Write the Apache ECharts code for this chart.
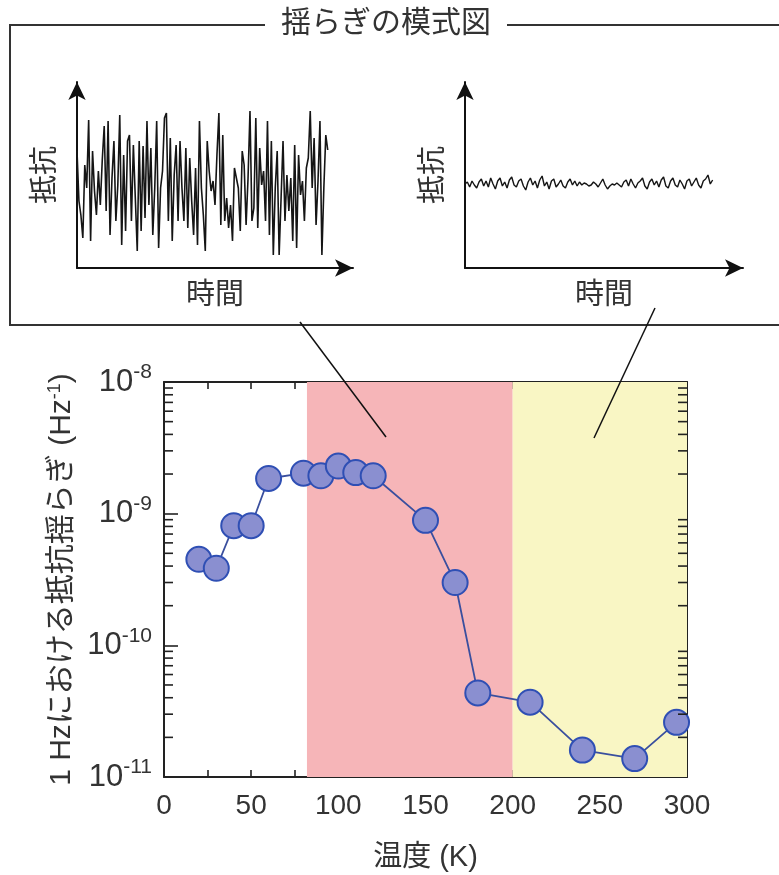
<!DOCTYPE html>
<html><head><meta charset="utf-8">
<script src="https://cdn.jsdelivr.net/npm/echarts@6/dist/echarts.min.js"></script>
<style>html,body{margin:0;padding:0;background:#fff}#c{width:779px;height:875px}</style>
</head><body><div id="c"></div>
<script>
// ---- main chart data ----
const temperatures = [20, 30, 40, 50, 60, 80, 90, 100, 110, 120, 150, 167, 180, 210, 240, 270, 294];
const noiseAt1Hz = [4.5e-10, 3.85e-10, 8.1e-10, 8.1e-10, 1.85e-9, 2.03e-9, 1.94e-9, 2.3e-9, 2.05e-9, 1.94e-9,
                    8.9e-10, 3.0e-10, 4.35e-11, 3.7e-11, 1.6e-11, 1.38e-11, 2.6e-11];
const xTickLabels = [0, 50, 100, 150, 200, 250, 300];
const yTickLabels = [1e-11, 1e-10, 1e-9, 1e-8];
const minorMantissas = [2, 3, 4, 5, 6, 7, 8, 9];
const regionPink = [82, 200];
const regionYellow = [200, 300];

// ---- schematic traces (arbitrary units) ----
const noiseLarge = [117,67,53,30,103,80,148,27,117,77,
  53,97,63,108,142,57,147,33,90,127,
  47,83,153,23,113,37,127,133,47,123,
  70,17,127,37,122,50,147,63,120,33,
  80,147,20,80,97,150,155,47,130,27,
  93,123,47,127,80,47,120,40,110,67,
  33,100,23,147,80,53,17,127,97,77,
  87,63,113,155,43,133,47,70,40,63,
  27,100,90,80,37,117,103,43,90,157,
  47,60,150,40,120,83,97,47,147,33,
  127,13,80,117,13,70,127,47,93,57,
  90,27,123,20,113,73,87,47,100,110,
  157,80,130,43,87,147,13,80,133,118];
const noiseSmall = [84,86,81,87,83,80,86,89,82,87,81,90,84,79,87,90,82,86,80,88,
  91,83,81,87,89,82,78,86,90,83,87,80,88,92,82,86,79,87,89,81,
  84,88,82,80,86,89,83,87,82,86,83,85,84,82,83,86,84,81,85,89,
  83,79,82,84,83,85,83,81,86,88,82,89,84,80,85,87,90,82,79,86,
  89,83,87,81,88,91,82,80,87,90,83,81,88,84,79,87,89,82,86,90,
  83,80,87,89,93,84,88];

const LATIN = '"Liberation Sans", Arial, "Noto Sans CJK JP", sans-serif';
const TXT = '#333';
const INK = '#222';

const minorTicks = [];
yTickLabels.slice(0, -1).forEach(d => minorMantissas.forEach(m => minorTicks.push(m * d)));

function supLabel(v) {
  const e = Math.round(Math.log10(v));
  return '{b|10}{s|' + e + '}';
}
const supRich = {
  b: {fontSize: 31, fontFamily: LATIN, color: TXT, lineHeight: 40},
  s: {fontSize: 21, fontFamily: LATIN, color: TXT, verticalAlign: 'top', lineHeight: 21}
};

const boxLine = {show: true, onZero: false, lineStyle: {color: INK, width: 2}};

function mainX(pos, showLabel) {
  return {
    type: 'value', gridIndex: 0, position: pos, min: 0, max: 300, interval: 25,
    axisLine: boxLine,
    axisTick: {show: true, inside: true, length: 7, lineStyle: {color: INK, width: 1.6}},
    splitLine: {show: false},
    axisLabel: {show: showLabel, margin: 15, fontSize: 28, fontFamily: LATIN, color: TXT,
      formatter: v => xTickLabels.includes(v) ? String(v) : ''},
    name: showLabel ? '温度 (K)' : '', nameLocation: 'middle', nameGap: 66,
    nameTextStyle: {fontSize: 29, fontFamily: LATIN, color: TXT}
  };
}
function mainY(pos, withLabel) {
  const o = {
    type: 'log', logBase: 10, gridIndex: 0, position: pos, min: 1e-11, max: 1e-8,
    axisLine: boxLine,
    splitLine: {show: false},
    axisTick: {show: true, inside: true, length: 14, lineStyle: {color: INK, width: 1.6}},
    axisLabel: {show: withLabel, margin: 12, formatter: supLabel, rich: supRich}
  };
  if (withLabel) {
    o.name = '1 Hzにおける抵抗揺らぎ (Hz{s|-1})';
    o.nameLocation = 'middle';
    o.nameGap = 78;
    o.nameRotate = 90;
    o.nameTextStyle = {fontSize: 30, fontFamily: LATIN, color: TXT,
      rich: {s: {fontSize: 18, fontFamily: LATIN, color: TXT, verticalAlign: 'top'}}};
  }
  return o;
}

function miniX(grid, max) {
  return {
    type: 'value', gridIndex: grid, min: 0, max: max,
    axisLine: {show: true, onZero: false, symbol: ['none', 'arrow'], symbolSize: [13, 18],
      lineStyle: {color: '#111', width: 2}},
    axisTick: {show: false}, axisLabel: {show: false}, splitLine: {show: false},
    name: '時間', nameLocation: 'middle', nameGap: 13,
    nameTextStyle: {fontSize: 29, fontFamily: LATIN, color: TXT}
  };
}
function miniY(grid) {
  return {
    type: 'value', gridIndex: grid, min: 0, max: 186,
    axisLine: {show: true, onZero: false, symbol: ['none', 'arrow'], symbolSize: [13, 18],
      lineStyle: {color: '#111', width: 2}},
    axisTick: {show: false}, axisLabel: {show: false}, splitLine: {show: false},
    name: '抵抗', nameLocation: 'middle', nameGap: 16, nameRotate: 90,
    nameTextStyle: {fontSize: 29, fontFamily: LATIN, color: TXT}
  };
}

// minor log ticks on both sides of the main plot, placed through the axis scale
function renderMinorTick(params, api) {
  const v = api.value(1);
  const l = api.coord([0, v]);
  const r = api.coord([300, v]);
  const st = {stroke: INK, lineWidth: 1.6};
  return {type: 'group', children: [
    {type: 'line', shape: {x1: l[0], y1: l[1], x2: l[0] + 9, y2: l[1]}, style: st},
    {type: 'line', shape: {x1: r[0], y1: r[1], x2: r[0] - 9, y2: r[1]}, style: st}
  ]};
}

const chart = echarts.init(document.getElementById('c'), null, {renderer: 'canvas'});
chart.setOption({
  backgroundColor: '#fff',
  animation: false,
  grid: [
    {left: 164, top: 382, width: 523, height: 395},
    {left: 77, top: 82, width: 276, height: 186},
    {left: 465, top: 82, width: 278, height: 186}
  ],
  xAxis: [mainX('bottom', true), mainX('top', false), miniX(1, 142), miniX(2, 119)],
  yAxis: [mainY('left', true), mainY('right', false), miniY(1), miniY(2)],
  graphic: [
    {type: 'rect', shape: {x: 10, y: 25, width: 800, height: 300},
     style: {fill: 'none', stroke: '#333', lineWidth: 2}, z: 1},
    {type: 'text', x: 386, y: 24, z: 2,
     style: {text: '揺らぎの模式図', fontSize: 30, fontFamily: LATIN, fill: TXT,
       align: 'center', verticalAlign: 'middle', backgroundColor: '#fff', padding: [2, 16]}},
    {type: 'line', shape: {x1: 300, y1: 322, x2: 386, y2: 437}, style: {stroke: '#111', lineWidth: 1.5}, z: 20},
    {type: 'line', shape: {x1: 655, y1: 308, x2: 594, y2: 438}, style: {stroke: '#111', lineWidth: 1.5}, z: 20}
  ],
  series: [
    {
      // shaded temperature regions, kept beneath the axes
      type: 'line', xAxisIndex: 0, yAxisIndex: 0, z: -1, data: [],
      markArea: {silent: true, data: [
        [{xAxis: regionPink[0], itemStyle: {color: '#f6b5b8'}}, {xAxis: regionPink[1]}],
        [{xAxis: regionYellow[0], itemStyle: {color: '#f9f6c4'}}, {xAxis: regionYellow[1]}]
      ]}
    },
    {
      type: 'custom', xAxisIndex: 0, yAxisIndex: 0, z: 5, clip: false, silent: true,
      data: minorTicks.map(v => [0, v]),
      renderItem: renderMinorTick
    },
    {
      type: 'line', xAxisIndex: 0, yAxisIndex: 0, z: 3,
      data: temperatures.map((t, i) => [t, noiseAt1Hz[i]]),
      symbol: 'circle', symbolSize: 25,
      itemStyle: {color: '#8a8fd0', borderColor: '#2f4fb4', borderWidth: 2},
      lineStyle: {color: '#3a4f9e', width: 1.8}
    },
    {
      type: 'line', xAxisIndex: 2, yAxisIndex: 2, showSymbol: false,
      data: noiseLarge.map((v, i) => [i, v]),
      lineStyle: {color: '#151515', width: 1.6}
    },
    {
      type: 'line', xAxisIndex: 3, yAxisIndex: 3, showSymbol: false,
      data: noiseSmall.map((v, i) => [i, v]),
      lineStyle: {color: '#151515', width: 1.4}
    }
  ]
});
</script>
</body></html>
